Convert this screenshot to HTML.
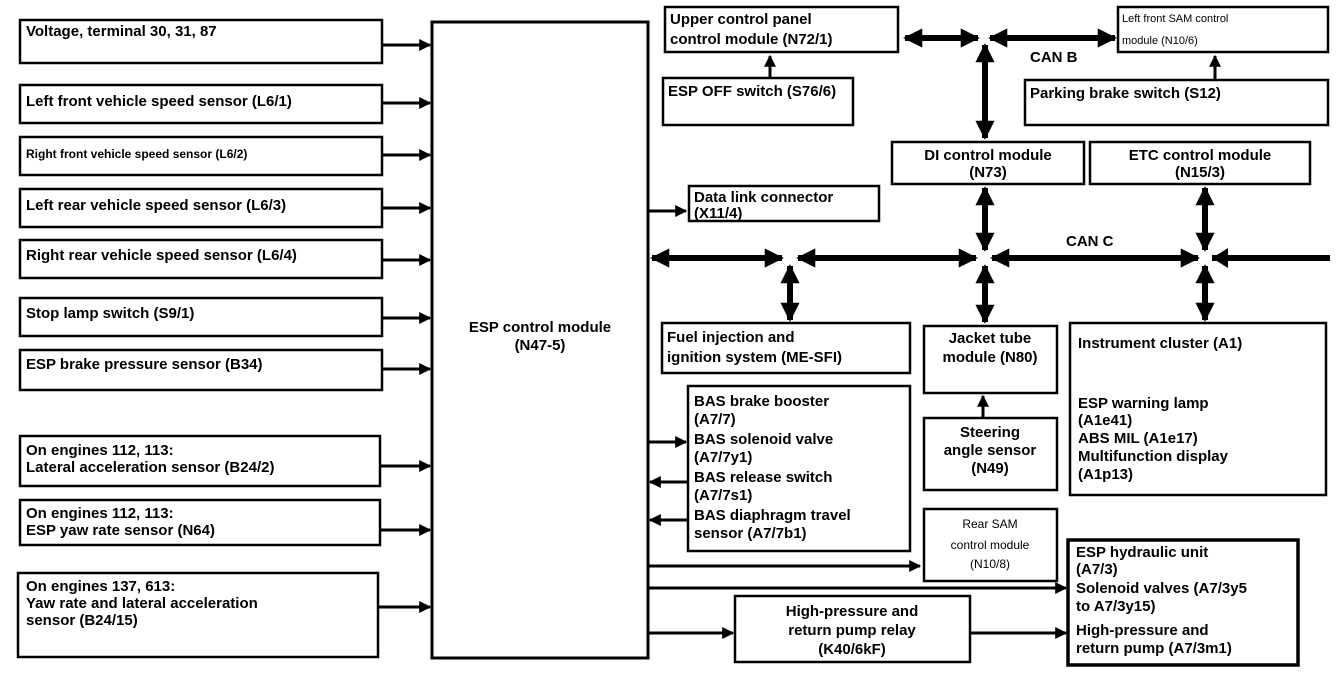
<!DOCTYPE html>
<html><head><meta charset="utf-8"><style>
html,body{margin:0;padding:0;background:#fff;}
svg{display:block;}
text{font-family:"Liberation Sans",sans-serif;font-weight:bold;font-size:15px;fill:#000;}
.b{fill:#fff;stroke:#000;stroke-width:2.5;}
.l{stroke:#000;stroke-width:3;fill:none;}
.t{stroke:#000;stroke-width:6;fill:none;}
</style></head><body>
<svg width="1344" height="678" viewBox="0 0 1344 678" xmlns="http://www.w3.org/2000/svg">
<defs>
<marker id="a" viewBox="0 0 10 10" refX="9" refY="5" markerWidth="4" markerHeight="4" orient="auto-start-reverse" markerUnits="strokeWidth"><path d="M0,0 L10,5 L0,10z" fill="#000"/></marker>
<marker id="A" viewBox="0 0 10 10" refX="9" refY="5" markerWidth="3.2" markerHeight="3.2" orient="auto-start-reverse" markerUnits="strokeWidth"><path d="M0,0 L10,5 L0,10z" fill="#000"/></marker>
</defs>
<!-- left boxes -->
<rect class="b" x="20" y="20" width="362" height="43"/><text x="26" y="36">Voltage, terminal 30, 31, 87</text>
<rect class="b" x="20" y="85" width="362" height="38"/><text x="26" y="106">Left front vehicle speed sensor (L6/1)</text>
<rect class="b" x="20" y="137" width="362" height="38"/><text x="26" y="158" style="font-size:12px">Right front vehicle speed sensor (L6/2)</text>
<rect class="b" x="20" y="189" width="362" height="38"/><text x="26" y="210">Left rear vehicle speed sensor (L6/3)</text>
<rect class="b" x="20" y="240" width="362" height="38"/><text x="26" y="260">Right rear vehicle speed sensor (L6/4)</text>
<rect class="b" x="20" y="298" width="362" height="38"/><text x="26" y="318">Stop lamp switch (S9/1)</text>
<rect class="b" x="20" y="350" width="362" height="40"/><text x="26" y="369">ESP brake pressure sensor (B34)</text>
<rect class="b" x="20" y="436" width="360" height="50"/><text x="26" y="455">On engines 112, 113:</text><text x="26" y="472">Lateral acceleration sensor (B24/2)</text>
<rect class="b" x="20" y="500" width="360" height="45"/><text x="26" y="518">On engines 112, 113:</text><text x="26" y="535">ESP yaw rate sensor (N64)</text>
<rect class="b" x="18" y="573" width="360" height="84"/><text x="26" y="591">On engines 137, 613:</text><text x="26" y="608">Yaw rate and lateral acceleration</text><text x="26" y="625">sensor (B24/15)</text>
<!-- input arrows -->
<g class="l" marker-end="url(#a)">
<line x1="382" y1="45" x2="430" y2="45"/><line x1="382" y1="103" x2="430" y2="103"/>
<line x1="382" y1="155" x2="430" y2="155"/><line x1="382" y1="208" x2="430" y2="208"/>
<line x1="382" y1="260" x2="430" y2="260"/><line x1="382" y1="318" x2="430" y2="318"/>
<line x1="382" y1="369" x2="430" y2="369"/><line x1="380" y1="466" x2="430" y2="466"/>
<line x1="380" y1="530" x2="430" y2="530"/><line x1="378" y1="607" x2="430" y2="607"/>
</g>
<!-- ESP module -->
<rect class="b" x="432" y="22" width="216" height="636" style="stroke-width:3"/>
<text x="540" y="332" text-anchor="middle">ESP control module</text><text x="540" y="350" text-anchor="middle">(N47-5)</text>
<!-- top right -->
<rect class="b" x="665" y="7" width="233" height="45"/><text x="670" y="24">Upper control panel</text><text x="670" y="44">control module (N72/1)</text>
<rect class="b" x="663" y="78" width="190" height="47"/><text x="668" y="96">ESP OFF switch (S76/6)</text>
<line class="l" x1="770" y1="78" x2="770" y2="56" marker-end="url(#a)"/>
<rect class="b" x="1118" y="7" width="210" height="45"/><text x="1122" y="22" style="font-size:11px;font-weight:normal">Left front SAM control</text><text x="1122" y="44" style="font-size:11px;font-weight:normal">module (N10/6)</text>
<rect class="b" x="1025" y="80" width="303" height="45"/><text x="1030" y="98">Parking brake switch (S12)</text>
<line class="l" x1="1215" y1="80" x2="1215" y2="56" marker-end="url(#a)"/>
<text x="1030" y="62">CAN B</text>
<g class="t" marker-start="url(#A)" marker-end="url(#A)">
<line x1="905" y1="38" x2="978" y2="38"/><line x1="990" y1="38" x2="1115" y2="38"/>
<line x1="985" y1="45" x2="985" y2="138"/>
</g>
<rect class="b" x="892" y="142" width="192" height="42"/><text x="988" y="160" text-anchor="middle">DI control module</text><text x="988" y="177" text-anchor="middle">(N73)</text>
<rect class="b" x="1090" y="142" width="220" height="42"/><text x="1200" y="160" text-anchor="middle">ETC control module</text><text x="1200" y="177" text-anchor="middle">(N15/3)</text>
<rect class="b" x="689" y="186" width="190" height="35"/><text x="694" y="202">Data link connector</text><text x="694" y="218">(X11/4)</text>
<line class="l" x1="648" y1="211" x2="686" y2="211" marker-end="url(#a)"/>
<!-- CAN C -->
<text x="1066" y="246">CAN C</text>
<g class="t" marker-start="url(#A)" marker-end="url(#A)">
<line x1="652" y1="258" x2="782" y2="258"/><line x1="798" y1="258" x2="976" y2="258"/>
<line x1="992" y1="258" x2="1198" y2="258"/>
<line x1="985" y1="188" x2="985" y2="250"/><line x1="1205" y1="188" x2="1205" y2="250"/>
<line x1="790" y1="266" x2="790" y2="320"/><line x1="985" y1="266" x2="985" y2="322"/><line x1="1205" y1="266" x2="1205" y2="320"/>
</g>
<line class="t" x1="1212" y1="258" x2="1330" y2="258"/>
<polygon points="1212,258 1228,248 1228,268" fill="#000"/>
<!-- lower right -->
<rect class="b" x="662" y="323" width="248" height="50"/><text x="667" y="342">Fuel injection and</text><text x="667" y="362">ignition system (ME-SFI)</text>
<rect class="b" x="924" y="326" width="133" height="67"/><text x="990" y="343" text-anchor="middle">Jacket tube</text><text x="990" y="362" text-anchor="middle">module (N80)</text>
<rect class="b" x="1070" y="323" width="256" height="172"/><text x="1078" y="348">Instrument cluster (A1)</text>
<text x="1078" y="408">ESP warning lamp</text><text x="1078" y="425">(A1e41)</text><text x="1078" y="443">ABS MIL (A1e17)</text><text x="1078" y="461">Multifunction display</text><text x="1078" y="479">(A1p13)</text>
<rect class="b" x="924" y="418" width="133" height="72"/><text x="990" y="437" text-anchor="middle">Steering</text><text x="990" y="455" text-anchor="middle">angle sensor</text><text x="990" y="473" text-anchor="middle">(N49)</text>
<line class="l" x1="983" y1="418" x2="983" y2="396" marker-end="url(#a)"/>
<rect class="b" x="688" y="386" width="222" height="165"/>
<text x="694" y="406">BAS brake booster</text><text x="694" y="424">(A7/7)</text><text x="694" y="444">BAS solenoid valve</text><text x="694" y="462">(A7/7y1)</text><text x="694" y="482">BAS release switch</text><text x="694" y="500">(A7/7s1)</text><text x="694" y="520">BAS diaphragm travel</text><text x="694" y="538">sensor (A7/7b1)</text>
<g class="l" marker-end="url(#a)">
<line x1="648" y1="442" x2="686" y2="442"/><line x1="688" y1="482" x2="650" y2="482"/><line x1="688" y1="520" x2="650" y2="520"/>
<line x1="648" y1="566" x2="920" y2="566"/><line x1="648" y1="588" x2="1066" y2="588"/>
<line x1="648" y1="633" x2="733" y2="633"/><line x1="970" y1="633" x2="1066" y2="633"/>
</g>
<rect class="b" x="924" y="509" width="133" height="72"/><text x="990" y="528" text-anchor="middle" style="font-size:12px;font-weight:normal">Rear SAM</text><text x="990" y="549" text-anchor="middle" style="font-size:12px;font-weight:normal">control module</text><text x="990" y="568" text-anchor="middle" style="font-size:12px;font-weight:normal">(N10/8)</text>
<rect class="b" x="1068" y="540" width="230" height="125" style="stroke-width:3.5"/>
<text x="1076" y="557">ESP hydraulic unit</text><text x="1076" y="574">(A7/3)</text><text x="1076" y="593">Solenoid valves (A7/3y5</text><text x="1076" y="611">to A7/3y15)</text><text x="1076" y="635">High-pressure and</text><text x="1076" y="653">return pump (A7/3m1)</text>
<rect class="b" x="735" y="596" width="235" height="66"/><text x="852" y="616" text-anchor="middle">High-pressure and</text><text x="852" y="635" text-anchor="middle">return pump relay</text><text x="852" y="654" text-anchor="middle">(K40/6kF)</text>
</svg>
</body></html>
